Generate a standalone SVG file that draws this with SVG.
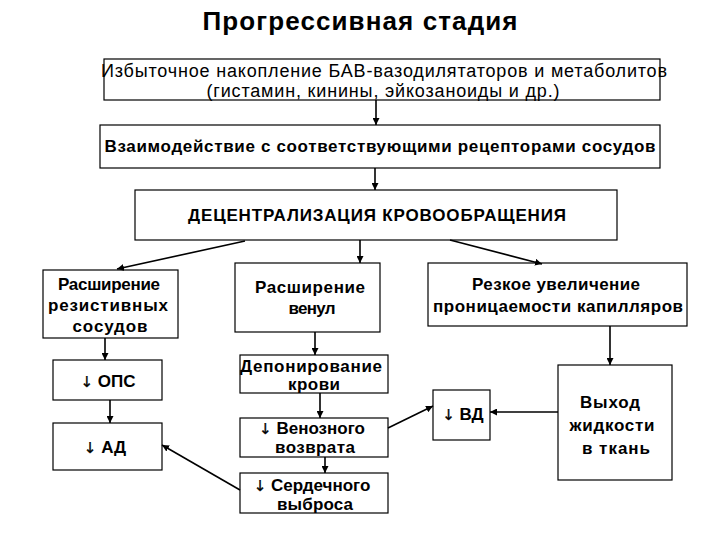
<svg xmlns="http://www.w3.org/2000/svg" width="720" height="540" viewBox="0 0 720 540">
<defs>
<marker id="ah" viewBox="0 0 10 10" refX="10" refY="5" markerWidth="7" markerHeight="7" markerUnits="userSpaceOnUse" orient="auto">
<path d="M0,0 L10,5 L0,10 z" fill="#000"/>
</marker>
</defs>
<style>
.box{fill:#fff;stroke:#000;stroke-width:1.2}
.t{font-family:"Liberation Sans",Arial,sans-serif;font-size:17px;font-weight:bold;text-anchor:middle;fill:#000}
.n{font-weight:normal}
.a{font-family:"DejaVu Sans","Liberation Sans",sans-serif;font-weight:normal;font-size:15px;fill:#000;stroke:#000;stroke-width:0.3}
.c{stroke:#000;stroke-width:1.6;fill:none;marker-end:url(#ah)}
</style>
<rect width="720" height="540" fill="#fff"/>
<text x="360" y="30" class="t" style="font-size:26px" textLength="315">Прогрессивная стадия</text>
<g id="n1"><rect class="box" x="104" y="59" width="556" height="41"/>
<text class="t n" x="384" y="77" style="font-size:18px" textLength="566">Избыточное накопление БАВ-вазодилятаторов и метаболитов</text>
<text class="t n" x="383" y="97" style="font-size:18px" textLength="353">(гистамин, кинины, эйкозаноиды и др.)</text></g>
<g id="n2"><rect class="box" x="100" y="125" width="560" height="43"/>
<text class="t" x="380" y="152" textLength="551">Взаимодействие с соответствующими рецепторами сосудов</text></g>
<g id="n3"><rect class="box" x="135" y="190" width="482" height="50"/>
<text class="t" x="377" y="221" textLength="378">ДЕЦЕНТРАЛИЗАЦИЯ КРОВООБРАЩЕНИЯ</text></g>
<g id="n4"><rect class="box" x="43" y="270" width="135" height="68"/>
<text class="t" x="109" y="290" textLength="102">Расширение</text><text class="t" x="108" y="311" textLength="120">резистивных</text><text class="t" x="110" y="332" textLength="75">сосудов</text></g>
<g id="n5"><rect class="box" x="53" y="360" width="109" height="40"/>
<text class="t" x="108" y="387"><tspan class="a">↓</tspan> ОПС</text></g>
<g id="n6"><rect class="box" x="53" y="423" width="109" height="47"/>
<text class="t" x="105" y="453"><tspan class="a">↓</tspan> АД</text></g>
<g id="n7"><rect class="box" x="235" y="263" width="145" height="69"/>
<text class="t" x="310" y="293" textLength="110">Расширение</text><text class="t" x="312" y="314" textLength="47">венул</text></g>
<g id="n8"><rect class="box" x="240" y="355" width="148" height="38"/>
<text class="t" x="311" y="372" textLength="142">Депонирование</text><text class="t" x="314" y="390" textLength="52">крови</text></g>
<g id="n9"><rect class="box" x="240" y="418" width="148" height="39"/>
<text class="t" x="312" y="434"><tspan class="a">↓</tspan> Венозного</text><text class="t" x="315" y="453" textLength="80">возврата</text></g>
<g id="n10"><rect class="box" x="240" y="473" width="148" height="40"/>
<text class="t" x="312" y="491"><tspan class="a">↓</tspan> Сердечного</text><text class="t" x="315" y="510" textLength="76">выброса</text></g>
<g id="n11"><rect class="box" x="428" y="263" width="259" height="63"/>
<text class="t" x="556" y="290" textLength="168">Резкое увеличение</text><text class="t" x="558" y="312" textLength="250">проницаемости капилляров</text></g>
<g id="n12"><rect class="box" x="433" y="390" width="57" height="50"/>
<text class="t" x="463" y="420"><tspan class="a">↓</tspan> ВД</text></g>
<g id="n13"><rect class="box" x="558" y="365" width="114" height="115"/>
<text class="t" x="610" y="408" textLength="60">Выход</text><text class="t" x="612" y="431" textLength="85">жидкости</text><text class="t" x="616" y="454" textLength="68">в ткань</text></g>
<g id="connectors">
<path class="c" d="M376,100 V125"/>
<path class="c" d="M375,168 V190"/>
<path class="c" d="M245,241 L117,269"/>
<path class="c" d="M360,240 V263"/>
<path class="c" d="M450,240 L542,264"/>
<path class="c" d="M105,338 V360"/>
<path class="c" d="M110,400 V423"/>
<path class="c" d="M315,332 V355"/>
<path class="c" d="M320,393 V418"/>
<path class="c" d="M325,457 V473"/>
<path class="c" d="M610,326 V365"/>
<path class="c" d="M558,412 H490"/>
<path class="c" d="M388,428 L433,406"/>
<path class="c" d="M240,490 L162,445"/>
</g>
</svg>
